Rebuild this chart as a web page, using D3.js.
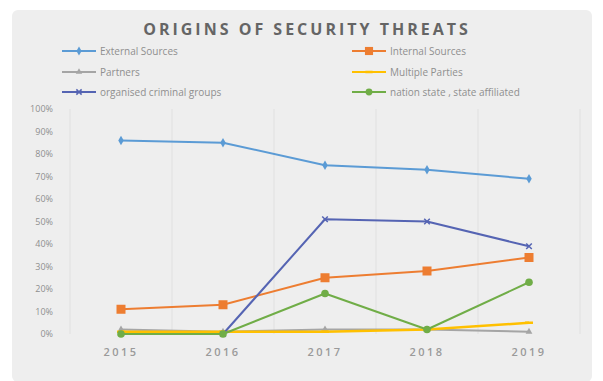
<!DOCTYPE html>
<html>
<head>
<meta charset="utf-8">
<script src="https://cdn.jsdelivr.net/npm/d3@7/dist/d3.min.js"></script>
<style>
  html, body { margin: 0; padding: 0; background: #ffffff; }
  svg { display: block; }
</style>
</head>
<body>
<svg id="chart" width="603" height="381"></svg>
<script>
// Years on the category axis
const years = ["2015", "2016", "2017", "2018", "2019"];

// Share of incidents by origin (percent); null = not reported
const externalSources = [86, 85, 75, 73, 69];
const internalSources = [11, 13, 25, 28, 34];
const partners = [2, 1, 2, 2, 1];
const multipleParties = [1, 1, 1, 2, 5];
const organisedCrime = [null, 0, 51, 50, 39];
const nationState = [0, 0, 18, 2, 23];

// Y axis tick labels
const yTicks = [0, 10, 20, 30, 40, 50, 60, 70, 80, 90, 100];

const series = [
  { name: "External Sources", values: externalSources, color: "#5b9bd5", marker: "diamond", col: 0, row: 0 },
  { name: "Internal Sources", values: internalSources, color: "#ed7d31", marker: "square", col: 1, row: 0 },
  { name: "Partners", values: partners, color: "#a5a5a5", marker: "triangle", col: 0, row: 1 },
  { name: "Multiple Parties", values: multipleParties, color: "#ffc000", marker: "dash", col: 1, row: 1 },
  { name: "organised criminal groups", values: organisedCrime, color: "#5564b3", marker: "cross", col: 0, row: 2 },
  { name: "nation state , state affiliated", values: nationState, color: "#70ad47", marker: "circle", col: 1, row: 2 }
];

const svg = d3.select("#chart");
const font = "'Open Sans', 'Liberation Sans', sans-serif";

// Chart panel
svg.append("rect")
  .attr("x", 12).attr("y", 10)
  .attr("width", 580).attr("height", 372)
  .attr("rx", 6)
  .attr("fill", "#eeeeee");

// Title
svg.append("text")
  .attr("x", 307).attr("y", 35)
  .attr("text-anchor", "middle")
  .attr("font-family", font)
  .attr("font-size", 16)
  .attr("font-weight", 700)
  .attr("letter-spacing", 3)
  .attr("fill", "#656565")
  .text("ORIGINS OF SECURITY THREATS");

const plot = { left: 70, right: 580, top: 109, bottom: 334 };

const x = d3.scaleBand().domain(years).range([plot.left, plot.right]);
const y = d3.scaleLinear().domain([0, 100]).range([plot.bottom, plot.top]);

// Vertical gridlines at category boundaries
const bounds = years.map(d => x(d)).concat([plot.right]);
svg.append("g").selectAll("line").data(bounds).join("line")
  .attr("x1", d => d).attr("x2", d => d)
  .attr("y1", plot.top).attr("y2", plot.bottom)
  .attr("stroke", "#e0e0e0").attr("stroke-width", 1);

// Y axis
const yAxis = svg.append("g")
  .attr("transform", `translate(${plot.left - 14},0)`)
  .call(d3.axisLeft(y).tickValues(yTicks).tickFormat(d => d + "%").tickSize(0));
yAxis.select(".domain").remove();
yAxis.selectAll("text")
  .attr("font-family", font).attr("font-size", 9).attr("fill", "#8f8f8f");

// X axis
const xAxis = svg.append("g")
  .attr("transform", `translate(0,${plot.bottom + 9})`)
  .call(d3.axisBottom(x).tickSize(0));
xAxis.select(".domain").remove();
xAxis.selectAll("text")
  .attr("font-family", font).attr("font-size", 11).attr("font-weight", 600)
  .attr("letter-spacing", 2.5).attr("fill", "#9a9a9a").attr("dy", "0.9em");

// Marker drawing
function drawMarker(g, type, color, cx, cy, scale) {
  const s = scale || 1;
  if (type === "diamond") {
    g.append("path").attr("d", d3.symbol(d3.symbolDiamond, 26 * s)())
      .attr("transform", `translate(${cx},${cy})`).attr("fill", color);
  } else if (type === "square") {
    g.append("rect").attr("x", cx - 4.5 * s).attr("y", cy - 4.5 * s)
      .attr("width", 9 * s).attr("height", 9 * s).attr("fill", color);
  } else if (type === "triangle") {
    g.append("path").attr("d", d3.symbol(d3.symbolTriangle, 20 * s)())
      .attr("transform", `translate(${cx},${cy})`).attr("fill", color);
  } else if (type === "dash") {
    g.append("line").attr("x1", cx - 4 * s).attr("x2", cx + 4 * s)
      .attr("y1", cy).attr("y2", cy).attr("stroke", color).attr("stroke-width", 2.5);
  } else if (type === "cross") {
    g.append("path").attr("d", d3.symbol(d3.symbolTimes, 22 * s)())
      .attr("transform", `translate(${cx},${cy})`).attr("fill", "none")
      .attr("stroke", color).attr("stroke-width", 1.5);
  } else if (type === "circle") {
    g.append("circle").attr("cx", cx).attr("cy", cy).attr("r", 3.8 * s).attr("fill", color);
  }
}

const line = d3.line()
  .defined(d => d.v !== null)
  .x(d => x(d.year) + x.bandwidth() / 2)
  .y(d => y(d.v));

// Lines and markers, drawn in series order
const linesG = svg.append("g");
series.forEach(s => {
  const pts = years.map((yr, i) => ({ year: yr, v: s.values[i] }));
  linesG.append("path")
    .datum(pts)
    .attr("d", line)
    .attr("fill", "none")
    .attr("stroke", s.color)
    .attr("stroke-width", s.name === "Multiple Parties" ? 2.5 : 2)
    .attr("stroke-linejoin", "round");
  pts.filter(p => p.v !== null).forEach(p => {
    drawMarker(linesG, s.marker, s.color, x(p.year) + x.bandwidth() / 2, y(p.v));
  });
});

// Legend
const legend = svg.append("g");
const colX = [62, 352];
const rowY = [51, 72, 92];
series.forEach(s => {
  const lx = colX[s.col], ly = rowY[s.row];
  legend.append("line")
    .attr("x1", lx).attr("x2", lx + 34)
    .attr("y1", ly).attr("y2", ly)
    .attr("stroke", s.color).attr("stroke-width", 2);
  drawMarker(legend, s.marker, s.color, lx + 17, ly, 0.9);
  legend.append("text")
    .attr("x", lx + 38).attr("y", ly)
    .attr("dy", "0.35em")
    .attr("font-family", font).attr("font-size", 10)
    .attr("fill", "#8f8f8f")
    .text(s.name);
});
</script>
</body>
</html>
